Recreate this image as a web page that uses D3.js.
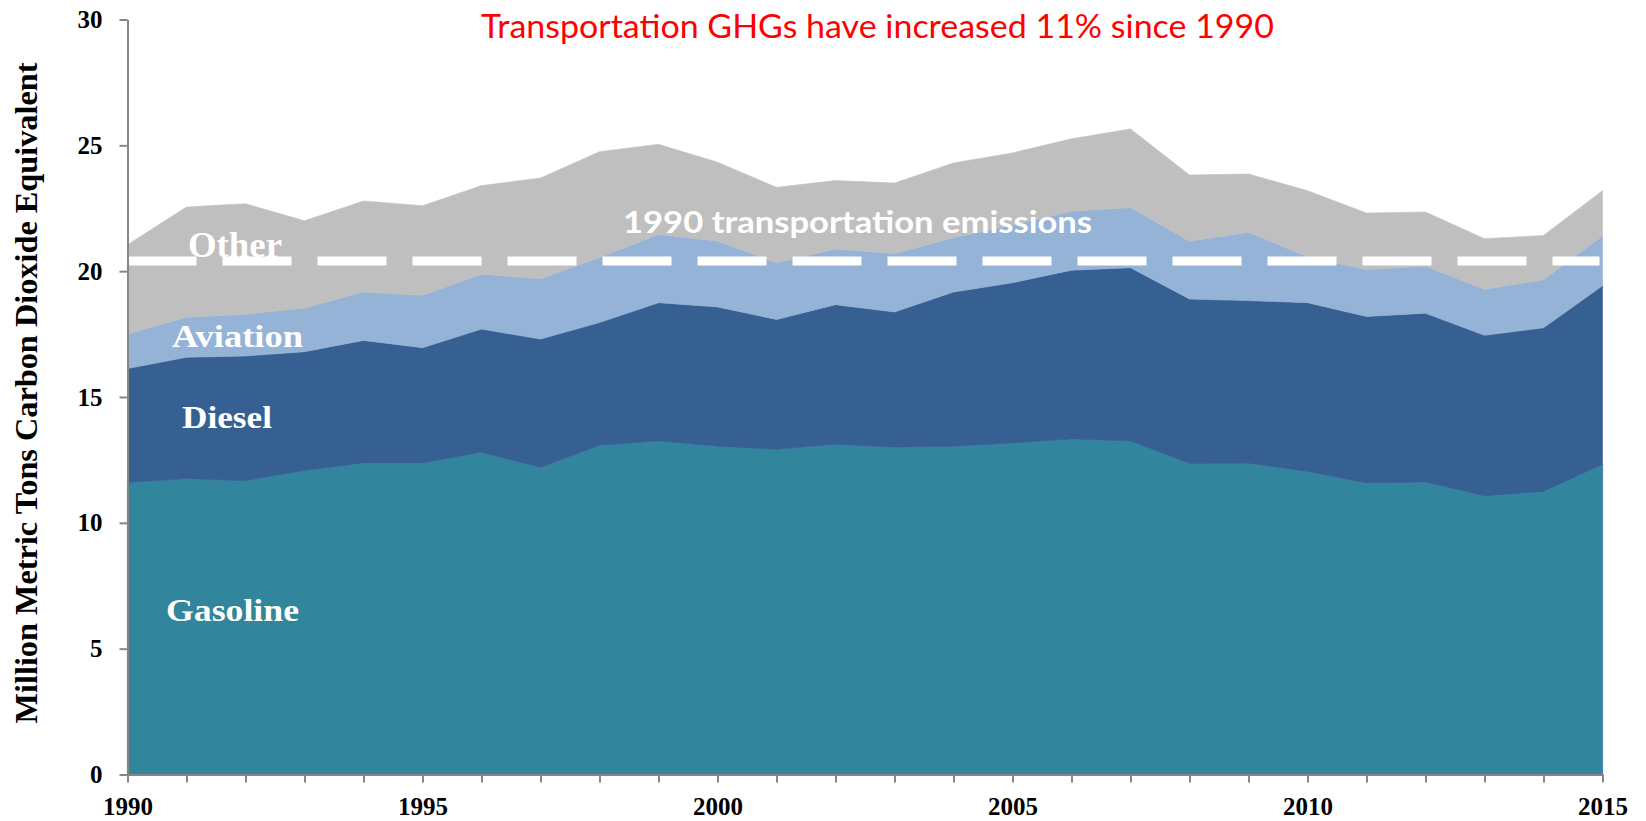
<!DOCTYPE html>
<html>
<head>
<meta charset="utf-8">
<script src="https://cdn.jsdelivr.net/npm/d3@7"></script>
<style>
  body { margin: 0; background: #fff; }
</style>
</head>
<body>
<div id="chart"></div>
<script>
// values (million metric tons CO2e)
var years = [1990, 1991, 1992, 1993, 1994, 1995, 1996, 1997, 1998, 1999, 2000, 2001, 2002,
             2003, 2004, 2005, 2006, 2007, 2008, 2009, 2010, 2011, 2012, 2013, 2014, 2015];
var gasoline = [11.6, 11.75, 11.67, 12.08, 12.38, 12.38, 12.8, 12.2, 13.08, 13.25, 13.04, 12.92, 13.12,
                13.0, 13.04, 13.17, 13.33, 13.25, 12.36, 12.37, 12.04, 11.58, 11.62, 11.07, 11.25, 12.32];
var diesel = [4.53, 4.83, 4.96, 4.72, 4.87, 4.58, 4.9, 5.1, 4.88, 5.5, 5.54, 5.16, 5.55,
              5.38, 6.13, 6.37, 6.71, 6.89, 6.53, 6.46, 6.71, 6.62, 6.71, 6.38, 6.5, 7.1];
var aviation = [1.37, 1.59, 1.66, 1.74, 1.92, 2.08, 2.18, 2.4, 2.58, 2.71, 2.62, 2.25, 2.21,
                2.32, 2.16, 2.29, 2.34, 2.39, 2.3, 2.72, 1.82, 1.87, 1.87, 1.83, 1.91, 1.98];
var other = [3.55, 4.38, 4.39, 3.46, 3.62, 3.56, 3.52, 4.0, 4.21, 3.58, 3.13, 3.0, 2.72,
             2.8, 2.97, 2.87, 2.88, 3.12, 2.63, 2.31, 2.63, 2.24, 2.15, 2.01, 1.76, 1.8];
var baseline1990 = 20.4;

var keys = ["gasoline", "diesel", "aviation", "other"];
var colors = {gasoline: "#31859c", diesel: "#376092", aviation: "#95b3d7", other: "#bfbfbf"};
var yTicks = [0, 5, 10, 15, 20, 25, 30];
var xLabelYears = [1990, 1995, 2000, 2005, 2010, 2015];

var rows = years.map((yr, i) => ({
    year: yr, gasoline: gasoline[i], diesel: diesel[i], aviation: aviation[i], other: other[i]
}));

var width = 1646, height = 821;

var svg = d3.select("#chart")
    .append("svg")
    .attr("width", width)
    .attr("height", height);

var x = d3.scaleLinear().domain([1990, 2015]).range([127.5, 1602.5]);
var y = d3.scaleLinear().domain([0, 30]).range([774.5, 19.5]);

var series = d3.stack().keys(keys)(rows);

var area = d3.area()
    .x(d => x(d.data.year))
    .y0(d => y(d[0]))
    .y1(d => y(d[1]));

svg.append("g")
    .selectAll("path")
    .data(series)
    .join("path")
    .attr("fill", d => colors[d.key])
    .attr("stroke", d => d.key == "gasoline" ? "#4f81bd" : colors[d.key])
    .attr("stroke-width", d => d.key == "gasoline" ? 1.2 : 0.6)
    .attr("d", area);

// dashed 1990 reference line
svg.append("line")
    .attr("x1", x(1990))
    .attr("x2", x(2015) - 3)
    .attr("y1", y(baseline1990))
    .attr("y2", y(baseline1990))
    .attr("stroke", "white")
    .attr("stroke-width", 9)
    .attr("stroke-dasharray", "69,26");

// axes
var yAxis = svg.append("g")
    .attr("transform", "translate(" + x(1990) + ",0)")
    .call(d3.axisLeft(y)
        .tickValues(yTicks)
        .tickSize(8)
        .tickSizeOuter(0)
        .tickPadding(17)
        .tickFormat(d3.format("d")));

var xAxis = svg.append("g")
    .attr("transform", "translate(0," + y(0) + ")")
    .call(d3.axisBottom(x)
        .tickValues(years)
        .tickSize(8)
        .tickSizeOuter(0)
        .tickPadding(15)
        .tickFormat(d => xLabelYears.includes(d) ? d : ""));

[yAxis, xAxis].forEach(g => {
    g.select(".domain").attr("stroke", "#868686").attr("stroke-width", 2);
    g.selectAll(".tick line").attr("stroke", "#868686").attr("stroke-width", 2);
    g.selectAll(".tick text")
        .attr("font-family", "'Liberation Serif', 'Times New Roman', serif")
        .attr("font-weight", "bold")
        .attr("font-size", "25px")
        .attr("fill", "black");
});

svg.append("text")
    .attr("transform", "translate(37,393) rotate(-90)")
    .attr("text-anchor", "middle")
    .attr("font-family", "'Liberation Serif', 'Times New Roman', serif")
    .attr("font-weight", "bold")
    .attr("font-size", "31px")
    .attr("textLength", 661)
    .attr("lengthAdjust", "spacingAndGlyphs")
    .text("Million Metric Tons Carbon Dioxide Equivalent");

// title
svg.append("text")
    .attr("x", 481)
    .attr("y", 38)
    .attr("font-family", "Lato, 'Open Sans', sans-serif")
    .attr("font-size", "33px")
    .attr("fill", "#ff0000")
    .attr("textLength", 793)
    .attr("lengthAdjust", "spacingAndGlyphs")
    .text("Transportation GHGs have increased 11% since 1990");

svg.append("text")
    .attr("x", 623)
    .attr("y", 233)
    .attr("font-family", "Lato, 'Open Sans', sans-serif")
    .attr("font-weight", "bold")
    .attr("font-size", "30px")
    .attr("fill", "white")
    .attr("textLength", 469)
    .attr("lengthAdjust", "spacingAndGlyphs")
    .text("1990 transportation emissions");

// series labels
var seriesLabels = [
    {text: "Other", x: 188, y: 257, size: 36, len: 94},
    {text: "Aviation", x: 172, y: 347, size: 31, len: 131},
    {text: "Diesel", x: 182, y: 428, size: 32, len: 90},
    {text: "Gasoline", x: 166, y: 621, size: 32, len: 133}
];

svg.append("g")
    .selectAll("text")
    .data(seriesLabels)
    .join("text")
    .attr("x", d => d.x)
    .attr("y", d => d.y)
    .attr("font-family", "'Liberation Serif', 'Times New Roman', serif")
    .attr("font-weight", "bold")
    .attr("font-size", d => d.size + "px")
    .attr("fill", "white")
    .attr("textLength", d => d.len)
    .attr("lengthAdjust", "spacingAndGlyphs")
    .text(d => d.text);
</script>
</body>
</html>
